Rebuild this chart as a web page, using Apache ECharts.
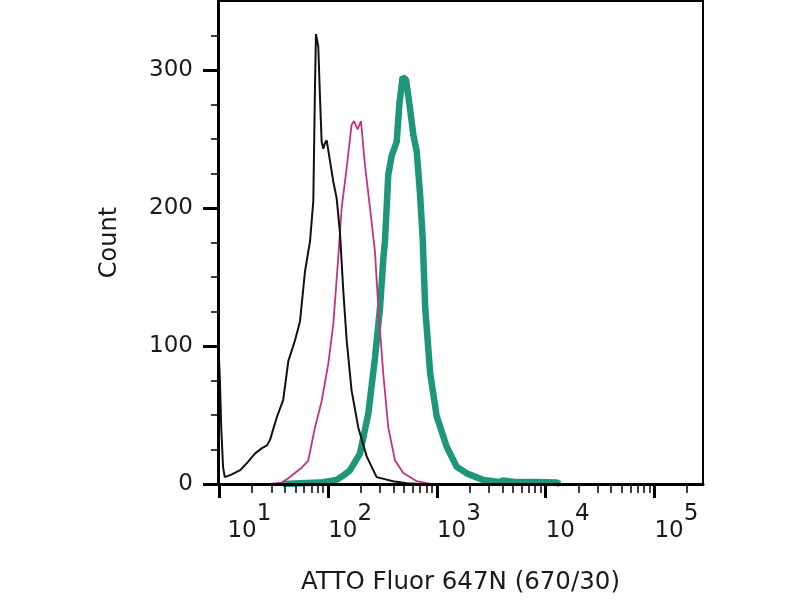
<!DOCTYPE html>
<html lang="en">
<head>
    <meta charset="UTF-8">
    <title>ATTO Fluor 647N histogram</title>
    <script src="https://cdn.jsdelivr.net/npm/echarts@6/dist/echarts.min.js"></script>
</head>
<body style="margin:0">
<div id="box" style="width:800px;height:600px;"></div>
<script type="text/javascript">
    // fluorescence (log axis) / count pairs
    let blackX = [9.8, 10.1, 10.4, 10.8, 11.2, 13, 15.5, 18.3, 21.2, 24.6, 27.4, 29.2, 33.6, 38.6, 43, 49.5, 55.1, 61.2, 68.1, 73, 75.6, 77.2, 81.1, 84.1, 87.1, 90.1, 93.5, 96.9, 104, 111.5, 119.7, 128.4, 137.7, 148, 164, 189, 226, 279, 395, 531, 700];
    let blackY = [100, 75, 40, 12, 5, 7, 10, 16, 22, 26, 28, 32, 48, 61, 89, 104, 118, 154, 176, 205, 287, 326, 317, 280, 248, 243, 247, 249, 234, 219, 207, 182, 140, 104, 68, 41, 20, 5, 2, 0.5, 0];

    let pinkX = [9.8, 29, 37.3, 42.7, 49.5, 57.4, 65.6, 75.6, 87.1, 100.2, 111.5, 123.8, 133, 148, 164, 172.6, 186.6, 200.3, 218, 242.5, 269.6, 289, 321, 357, 412, 491, 652, 865];
    let pinkY = [0, 0, 1, 4, 8, 12, 17, 41, 60, 87, 116, 164, 200, 229, 260, 263, 257, 263, 231, 200, 168, 128, 80, 41, 17, 8, 2, 0];

    let greenX = [38.4, 55, 84, 119.7, 143, 159, 196, 234, 270, 300, 322, 333, 357, 384, 427, 451, 484, 520, 566, 607, 652, 700, 740, 780, 867, 996, 1230, 1520, 1880, 2655, 3800, 4050, 5230, 7980, 12700, 13500];
    let greenY = [0, 0.5, 1, 3, 7, 10, 22, 51, 92, 128, 164, 176, 224, 238, 248, 275, 295, 293, 272, 253, 241, 210, 178, 128, 80, 49, 27, 12.5, 7.7, 3, 1.5, 2.5, 1.5, 1.5, 1, 0];

    let xLabels = [10, 100, 1000, 10000, 100000];
    let xMinor = [20, 30, 40, 50, 60, 70, 80, 90, 200, 300, 400, 500, 600, 700, 800, 900,
        2000, 3000, 4000, 5000, 6000, 7000, 8000, 9000, 20000, 30000, 40000, 50000, 60000, 70000, 80000, 90000, 200000];
    let yLabels = [0, 100, 200, 300];
    let yMinor = [25, 50, 75, 125, 150, 175, 225, 250, 275, 325];

    function pairs(xs, ys) {
        return xs.map((x, i) => [x, ys[i]]);
    }

    let font = 'DejaVu Sans';
    let xMin = 9.7, xMax = 280000, yMax = 350;

    let option = {
        animation: false,
        textStyle: {fontFamily: font},
        grid: {left: 218, right: 97, top: 1, bottom: 116, show: true, borderColor: '#000', borderWidth: 2},
        xAxis: [
            {
                type: 'log', logBase: 10, min: xMin, max: xMax, z: 5,
                name: 'ATTO Fluor 647N (670/30)', nameLocation: 'middle', nameGap: 86,
                nameTextStyle: {fontSize: 24.5, color: '#1a1a1a', fontFamily: font},
                axisLine: {lineStyle: {color: '#000', width: 3}},
                splitLine: {show: false},
                axisTick: {customValues: xLabels, length: 14, lineStyle: {color: '#000', width: 3}},
                axisLabel: {
                    customValues: xLabels, align: 'left', margin: 27, color: '#1a1a1a',
                    formatter: function (v) {
                        let e = Math.round(Math.log10(v));
                        return (e === 1 ? '{f|10}' : '{b|10}') + '{s|' + e + '}';
                    },
                    rich: {
                        b: {fontSize: 23, lineHeight: 23, padding: [17, 0, 0, 0], fontFamily: font},
                        f: {fontSize: 23, lineHeight: 23, padding: [17, 0, 0, 8], fontFamily: font},
                        s: {fontSize: 23, lineHeight: 23, padding: [0, 0, 17, 0], fontFamily: font}
                    }
                }
            },
            {
                type: 'log', logBase: 10, min: xMin, max: xMax, z: 5, position: 'bottom',
                axisLine: {show: false}, splitLine: {show: false}, axisLabel: {show: false},
                axisTick: {customValues: xMinor, length: 9, lineStyle: {color: '#000', width: 1.5}}
            }
        ],
        yAxis: [
            {
                type: 'value', min: 0, max: yMax, z: 5,
                name: 'Count', nameLocation: 'middle', nameGap: 96, nameRotate: 90,
                nameTextStyle: {fontSize: 24, color: '#1a1a1a', fontFamily: font},
                axisLine: {show: true, lineStyle: {color: '#000', width: 3}},
                splitLine: {show: false},
                axisTick: {customValues: yLabels, length: 15, lineStyle: {color: '#000', width: 3}},
                axisLabel: {customValues: yLabels, margin: 25, fontSize: 23, color: '#1a1a1a', padding: [6, 0, 0, 0]}
            },
            {
                type: 'value', min: 0, max: yMax, z: 5, position: 'left',
                axisLine: {show: false}, splitLine: {show: false}, axisLabel: {show: false},
                axisTick: {customValues: yMinor, length: 7, lineStyle: {color: '#000', width: 1.5}}
            }
        ],
        series: [
            {
                name: 'stained', type: 'line', showSymbol: false, z: 2,
                lineStyle: {color: '#1e967a', width: 6.5},
                data: pairs(greenX, greenY)
            },
            {
                name: 'isotype', type: 'line', showSymbol: false, z: 3,
                lineStyle: {color: '#c4337f', width: 1.8},
                data: pairs(pinkX, pinkY)
            },
            {
                name: 'unstained', type: 'line', showSymbol: false, z: 4,
                lineStyle: {color: '#111', width: 2},
                data: pairs(blackX, blackY)
            }
        ]
    };

    let chart = echarts.init(document.getElementById('box'));
    chart.setOption(option);
</script>
</body>
</html>
